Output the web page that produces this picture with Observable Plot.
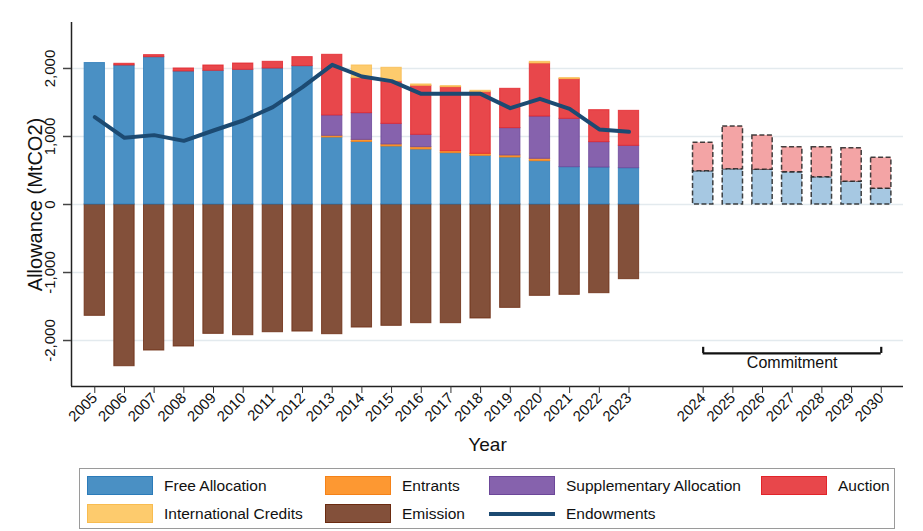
<!DOCTYPE html>
<html>
<head>
<meta charset="utf-8">
<script src="https://cdn.jsdelivr.net/npm/d3@7"></script>
<script src="https://cdn.jsdelivr.net/npm/@observablehq/plot@0.6"></script>
<style>
  html, body { margin: 0; padding: 0; background: #fff; }
  body { width: 923px; height: 531px; position: relative; overflow: hidden; font-family: "Liberation Sans", Arial, Helvetica, sans-serif; }
  #chart { position: absolute; left: 0; top: 0; }
  #legend { position: absolute; left: 79px; top: 468px; width: 816px; height: 61px; border: 1px solid #9a9a9a; box-sizing: border-box; }
  .item { position: absolute; display: flex; align-items: center; font-size: 15.5px; color: #111; }
  .sw { width: 66px; height: 19px; box-sizing: border-box; border: 1px solid; margin-right: 11px; }
  .ln { width: 66px; height: 19px; margin-right: 11px; position: relative; }
  .ln::after { content: ""; position: absolute; left: 0; right: 0; top: 8px; height: 4px; background: #1c4a72; }
</style>
</head>
<body>
<div id="chart"></div>
<div id="legend"></div>
<script>
// ---------------- data ----------------
const years = [2005, 2006, 2007, 2008, 2009, 2010, 2011, 2012, 2013, 2014, 2015, 2016, 2017, 2018, 2019, 2020, 2021, 2022, 2023];
const freeAllocation = [2080, 2044, 2166, 1956, 1966, 1980, 2000, 2034, 985, 920, 853, 809, 755, 716, 691, 637, 549, 544, 534];
const entrants = [0, 0, 0, 0, 0, 0, 0, 0, 25, 30, 30, 34, 29, 29, 30, 35, 0, 0, 0];
const supplementary = [0, 0, 0, 0, 0, 0, 0, 0, 300, 393, 303, 182, 0, 0, 402, 622, 711, 373, 329];
const auction = [0, 25, 30, 44, 78, 93, 98, 133, 891, 515, 623, 720, 941, 907, 578, 779, 583, 470, 514];
const internationalCredits = [0, 0, 0, 0, 0, 0, 0, 0, 0, 186, 201, 20, 15, 20, 0, 25, 15, 0, 0];
const emission = [-1637, -2378, -2147, -2088, -1902, -1922, -1878, -1868, -1907, -1809, -1784, -1745, -1745, -1676, -1520, -1343, -1328, -1304, -1098];
const endowments = [1284, 980, 1020, 936, 1088, 1235, 1431, 1725, 2054, 1882, 1814, 1627, 1627, 1627, 1417, 1554, 1407, 1103, 1069];

const commitYears = [2024, 2025, 2026, 2027, 2028, 2029, 2030];
const commitFree = [490, 519, 510, 475, 402, 333, 230];
const commitAuction = [417, 628, 505, 368, 441, 495, 456];

const yTicks = [-2000, -1000, 0, 1000, 2000];
const yTickLabels = ["-2,000", "-1,000", "0", "1,000", "2,000"];
const commitmentLabel = "Commitment";

// ---------------- layout helpers ----------------
const GAP = 1.5;                    // extra space between 2023 and 2024
const pos = y => y - years[0] + (y > years[years.length - 1] ? GAP : 0);
const HW = 0.342;                   // half bar width (in year units)
const xDomain = [-0.785, 27.25];
const yDomain = [-2676, 2676];

const seriesDefs = [
  {name: "Free Allocation", values: freeAllocation, fill: "#4a90c4", stroke: "#2b7bb9"},
  {name: "Entrants", values: entrants, fill: "#fd9832", stroke: "#f58218"},
  {name: "Supplementary Allocation", values: supplementary, fill: "#8662ad", stroke: "#6c4799"},
  {name: "Auction", values: auction, fill: "#e8474b", stroke: "#e2242a"},
  {name: "International Credits", values: internationalCredits, fill: "#fdcb6d", stroke: "#f8bc50"}
];

const segments = seriesDefs.map(() => []);
years.forEach((yr, i) => {
  let cum = 0;
  seriesDefs.forEach((s, k) => {
    const v = s.values[i];
    if (v > 0) segments[k].push({p: pos(yr), y1: cum, y2: cum + v});
    cum += v;
  });
});

const emissionRows = years.map((yr, i) => ({p: pos(yr), v: emission[i]}));
const endowRows = years.map((yr, i) => ({p: pos(yr), v: endowments[i]}));
const commitRows = commitYears.map((yr, i) => ({p: pos(yr), f: commitFree[i], t: commitFree[i] + commitAuction[i]}));

const allYears = years.concat(commitYears);
const labelByPos = new Map(allYears.map(y => [pos(y), String(y)]));
const xTickPos = allYears.map(pos);

const bracketY = -2190, bracketTop = -2100, bracketTextY = -2330;
const bx1 = pos(commitYears[0]), bx2 = pos(commitYears[commitYears.length - 1]);

const marks = [
  Plot.gridY(yTicks, {stroke: "#e3eaee", strokeOpacity: 1, strokeWidth: 1.6}),
  Plot.rectY(emissionRows, {x1: d => d.p - HW, x2: d => d.p + HW, y1: 0, y2: "v", fill: "#83503a", stroke: "#6b2b10", strokeWidth: 1, strokeOpacity: 0.8})
];
seriesDefs.forEach((s, k) => {
  marks.push(Plot.rectY(segments[k], {x1: d => d.p - HW, x2: d => d.p + HW, y1: "y1", y2: "y2", fill: s.fill, stroke: s.stroke, strokeWidth: 1, strokeOpacity: 0.8}));
});
marks.push(
  Plot.rectY(commitRows, {x1: d => d.p - HW, x2: d => d.p + HW, y1: 0, y2: "f", fill: "#a6c8e2", stroke: "#222", strokeWidth: 1.5, strokeDasharray: "5,2.5", strokeOpacity: 0.85}),
  Plot.rectY(commitRows, {x1: d => d.p - HW, x2: d => d.p + HW, y1: "f", y2: "t", fill: "#f3a4a5", stroke: "#222", strokeWidth: 1.5, strokeDasharray: "5,2.5", strokeOpacity: 0.85}),
  Plot.lineY(endowRows, {x: "p", y: "v", stroke: "#1c4a72", strokeWidth: 4}),
  // axes lines
  Plot.ruleX([xDomain[0]], {stroke: "#222", strokeWidth: 1.5}),
  Plot.ruleY([yDomain[0]], {stroke: "#222", strokeWidth: 1.5}),
  // y ticks + labels
  Plot.axisY(yTicks, {tickSize: 8, tickFormat: () => "", label: null, stroke: "#444", strokeWidth: 1.5}),
  Plot.text(yTicks, {x: xDomain[0], y: d => d, text: (d, i) => yTickLabels[i], rotate: -90, dx: -21, fontSize: 15, fill: "#111", textAnchor: "middle", lineAnchor: "middle"}),
  Plot.text(["Allowance (MtCO2)"], {frameAnchor: "left", dx: -36, rotate: -90, fontSize: 20, fill: "#111", textAnchor: "middle", lineAnchor: "middle"}),
  // x axis
  Plot.axisX(xTickPos, {tickSize: 7, tickRotate: -45, tickFormat: p => labelByPos.get(p), fontSize: 15, label: null, tickPadding: 2, stroke: "#333", fill: "#111"}),
  Plot.text(["Year"], {frameAnchor: "bottom", dy: 58, fontSize: 19, fill: "#111", lineAnchor: "middle"}),
  // commitment bracket
  Plot.ruleY([bracketY], {x1: bx1, x2: bx2, stroke: "#111", strokeWidth: 2.2}),
  Plot.ruleX([bx1, bx2], {y1: bracketY, y2: bracketTop, stroke: "#111", strokeWidth: 2.2}),
  Plot.text([commitmentLabel], {x: (bx1 + bx2) / 2, y: bracketTextY, fontSize: 16, fill: "#111", lineAnchor: "middle"})
);

const chart = Plot.plot({
  width: 923,
  height: 463,
  marginLeft: 71,
  marginRight: 20,
  marginTop: 22,
  marginBottom: 77,
  style: {fontFamily: "'Liberation Sans', Arial, Helvetica, sans-serif", background: "white", overflow: "visible"},
  x: {type: "linear", domain: xDomain, axis: null},
  y: {domain: yDomain, axis: null},
  marks
});
document.getElementById("chart").appendChild(chart);

// ---------------- legend ----------------
const legendItems = [
  {label: "Free Allocation", fill: "#4a90c4", stroke: "#2b7bb9", x: 7, row: 0},
  {label: "Entrants", fill: "#fd9832", stroke: "#f58218", x: 245, row: 0},
  {label: "Supplementary Allocation", fill: "#8662ad", stroke: "#6c4799", x: 409, row: 0},
  {label: "Auction", fill: "#e8474b", stroke: "#e2242a", x: 681, row: 0},
  {label: "International Credits", fill: "#fdcb6d", stroke: "#f8bc50", x: 7, row: 1},
  {label: "Emission", fill: "#83503a", stroke: "#6b2b10", x: 245, row: 1},
  {label: "Endowments", line: true, x: 409, row: 1}
];
const legend = document.getElementById("legend");
legendItems.forEach(it => {
  const d = document.createElement("div");
  d.className = "item";
  d.style.left = it.x + "px";
  d.style.top = (it.row === 0 ? 7 : 35) + "px";
  const s = document.createElement("div");
  if (it.line) { s.className = "ln"; }
  else { s.className = "sw"; s.style.background = it.fill; s.style.borderColor = it.stroke; }
  const t = document.createElement("span");
  t.textContent = it.label;
  d.appendChild(s); d.appendChild(t);
  legend.appendChild(d);
});
</script>
</body>
</html>
